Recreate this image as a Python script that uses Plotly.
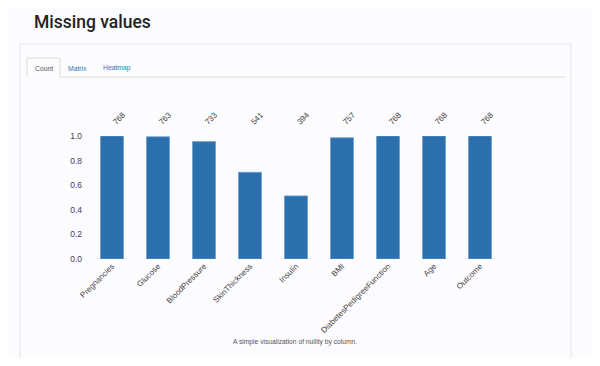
import plotly.graph_objects as go

columns = ["Pregnancies", "Glucose", "BloodPressure", "SkinThickness", "Insulin",
           "BMI", "DiabetesPedigreeFunction", "Age", "Outcome"]
counts = [768, 763, 733, 541, 394, 757, 768, 768, 768]
total_rows = 768
y_ticks = [0.0, 0.2, 0.4, 0.6, 0.8, 1.0]

fractions = [c / total_rows for c in counts]
xs = list(range(len(columns)))

# the page body adds an 8px margin, so the figure is drawn 8px in
OFF = 8
W, H = 600 - 2 * OFF, 366 - 2 * OFF
def px(x): return (x - OFF) / W
def py(y): return 1 - (y - OFF) / H

BG = "#fcfbfd"
BAR = "#2c6fad"
FONT = "Liberation Sans, Arial, sans-serif"

fig = go.Figure()
fig.add_trace(go.Bar(
    x=xs, y=fractions, width=0.5,
    marker=dict(color=BAR, line=dict(color="#6b9fd0", width=0.8)),
    hoverinfo="skip",
))

fig.update_layout(
    width=W, height=H,
    margin=dict(l=0, r=0, t=0, b=0, pad=0),
    paper_bgcolor=BG, plot_bgcolor=BG,
    showlegend=False,
    font=dict(family=FONT, color="#444"),
    xaxis=dict(
        domain=[px(89), px(503)], range=[-0.5, len(columns) - 0.5],
        tickvals=xs, ticktext=columns, tickangle=-45,
        tickfont=dict(size=8, color="#444"),
        showgrid=False, zeroline=False, showline=False, ticks="",
        automargin=False,
    ),
    yaxis=dict(
        domain=[py(259), py(136)], range=[0, 1.0],
        tickvals=y_ticks, tickformat=".1f",
        tickfont=dict(size=8.5, color="#444"),
        showgrid=False, zeroline=False, showline=False, ticks="",
        ticklabelstandoff=6, automargin=False,
    ),
)

# count labels on top
for x, c in zip(xs, counts):
    fig.add_annotation(x=x, y=py(118), xref="x", yref="paper", text=str(c),
                       textangle=-45, showarrow=False, xshift=7,
                       xanchor="center", yanchor="middle",
                       font=dict(size=8, color="#444"))

# panel and tabs
shapes = [
    dict(type="rect", x0=px(20), x1=px(571), y0=py(360), y1=py(44), xref="paper", yref="paper",
         line=dict(color="#e4e4e6", width=1), fillcolor="rgba(0,0,0,0)", layer="below"),
    dict(type="line", x0=px(60), x1=px(565), y0=py(77), y1=py(77), xref="paper", yref="paper",
         line=dict(color="#dddddd", width=1)),
    dict(type="path", path=f"M {px(27)},{py(77)} L {px(27)},{py(58)} L {px(60)},{py(58)} L {px(60)},{py(77)}",
         xref="paper", yref="paper", line=dict(color="#dddddd", width=1)),
]
fig.update_layout(shapes=shapes)

fig.add_annotation(x=px(32), y=py(22), xref="paper", yref="paper", text="Missing values",
                   showarrow=False, xanchor="left", yanchor="middle",
                   font=dict(size=17.5, color="#222", family="Roboto, Liberation Sans, sans-serif", weight=500))
for label, cx, col in [("Count", 43.5, "#555"), ("Matrix", 77.5, "#337ab7"), ("Heatmap", 116.5, "#337ab7")]:
    fig.add_annotation(x=px(cx), y=py(68), xref="paper", yref="paper", text=label,
                       showarrow=False, xanchor="center", yanchor="middle",
                       font=dict(size=6.8, color=col))
fig.add_annotation(x=px(295), y=py(342), xref="paper", yref="paper",
                   text="A simple visualization of nullity by column.",
                   showarrow=False, xanchor="center", yanchor="middle",
                   font=dict(size=6.7, color="#555"))

fig.write_html("out.html")
